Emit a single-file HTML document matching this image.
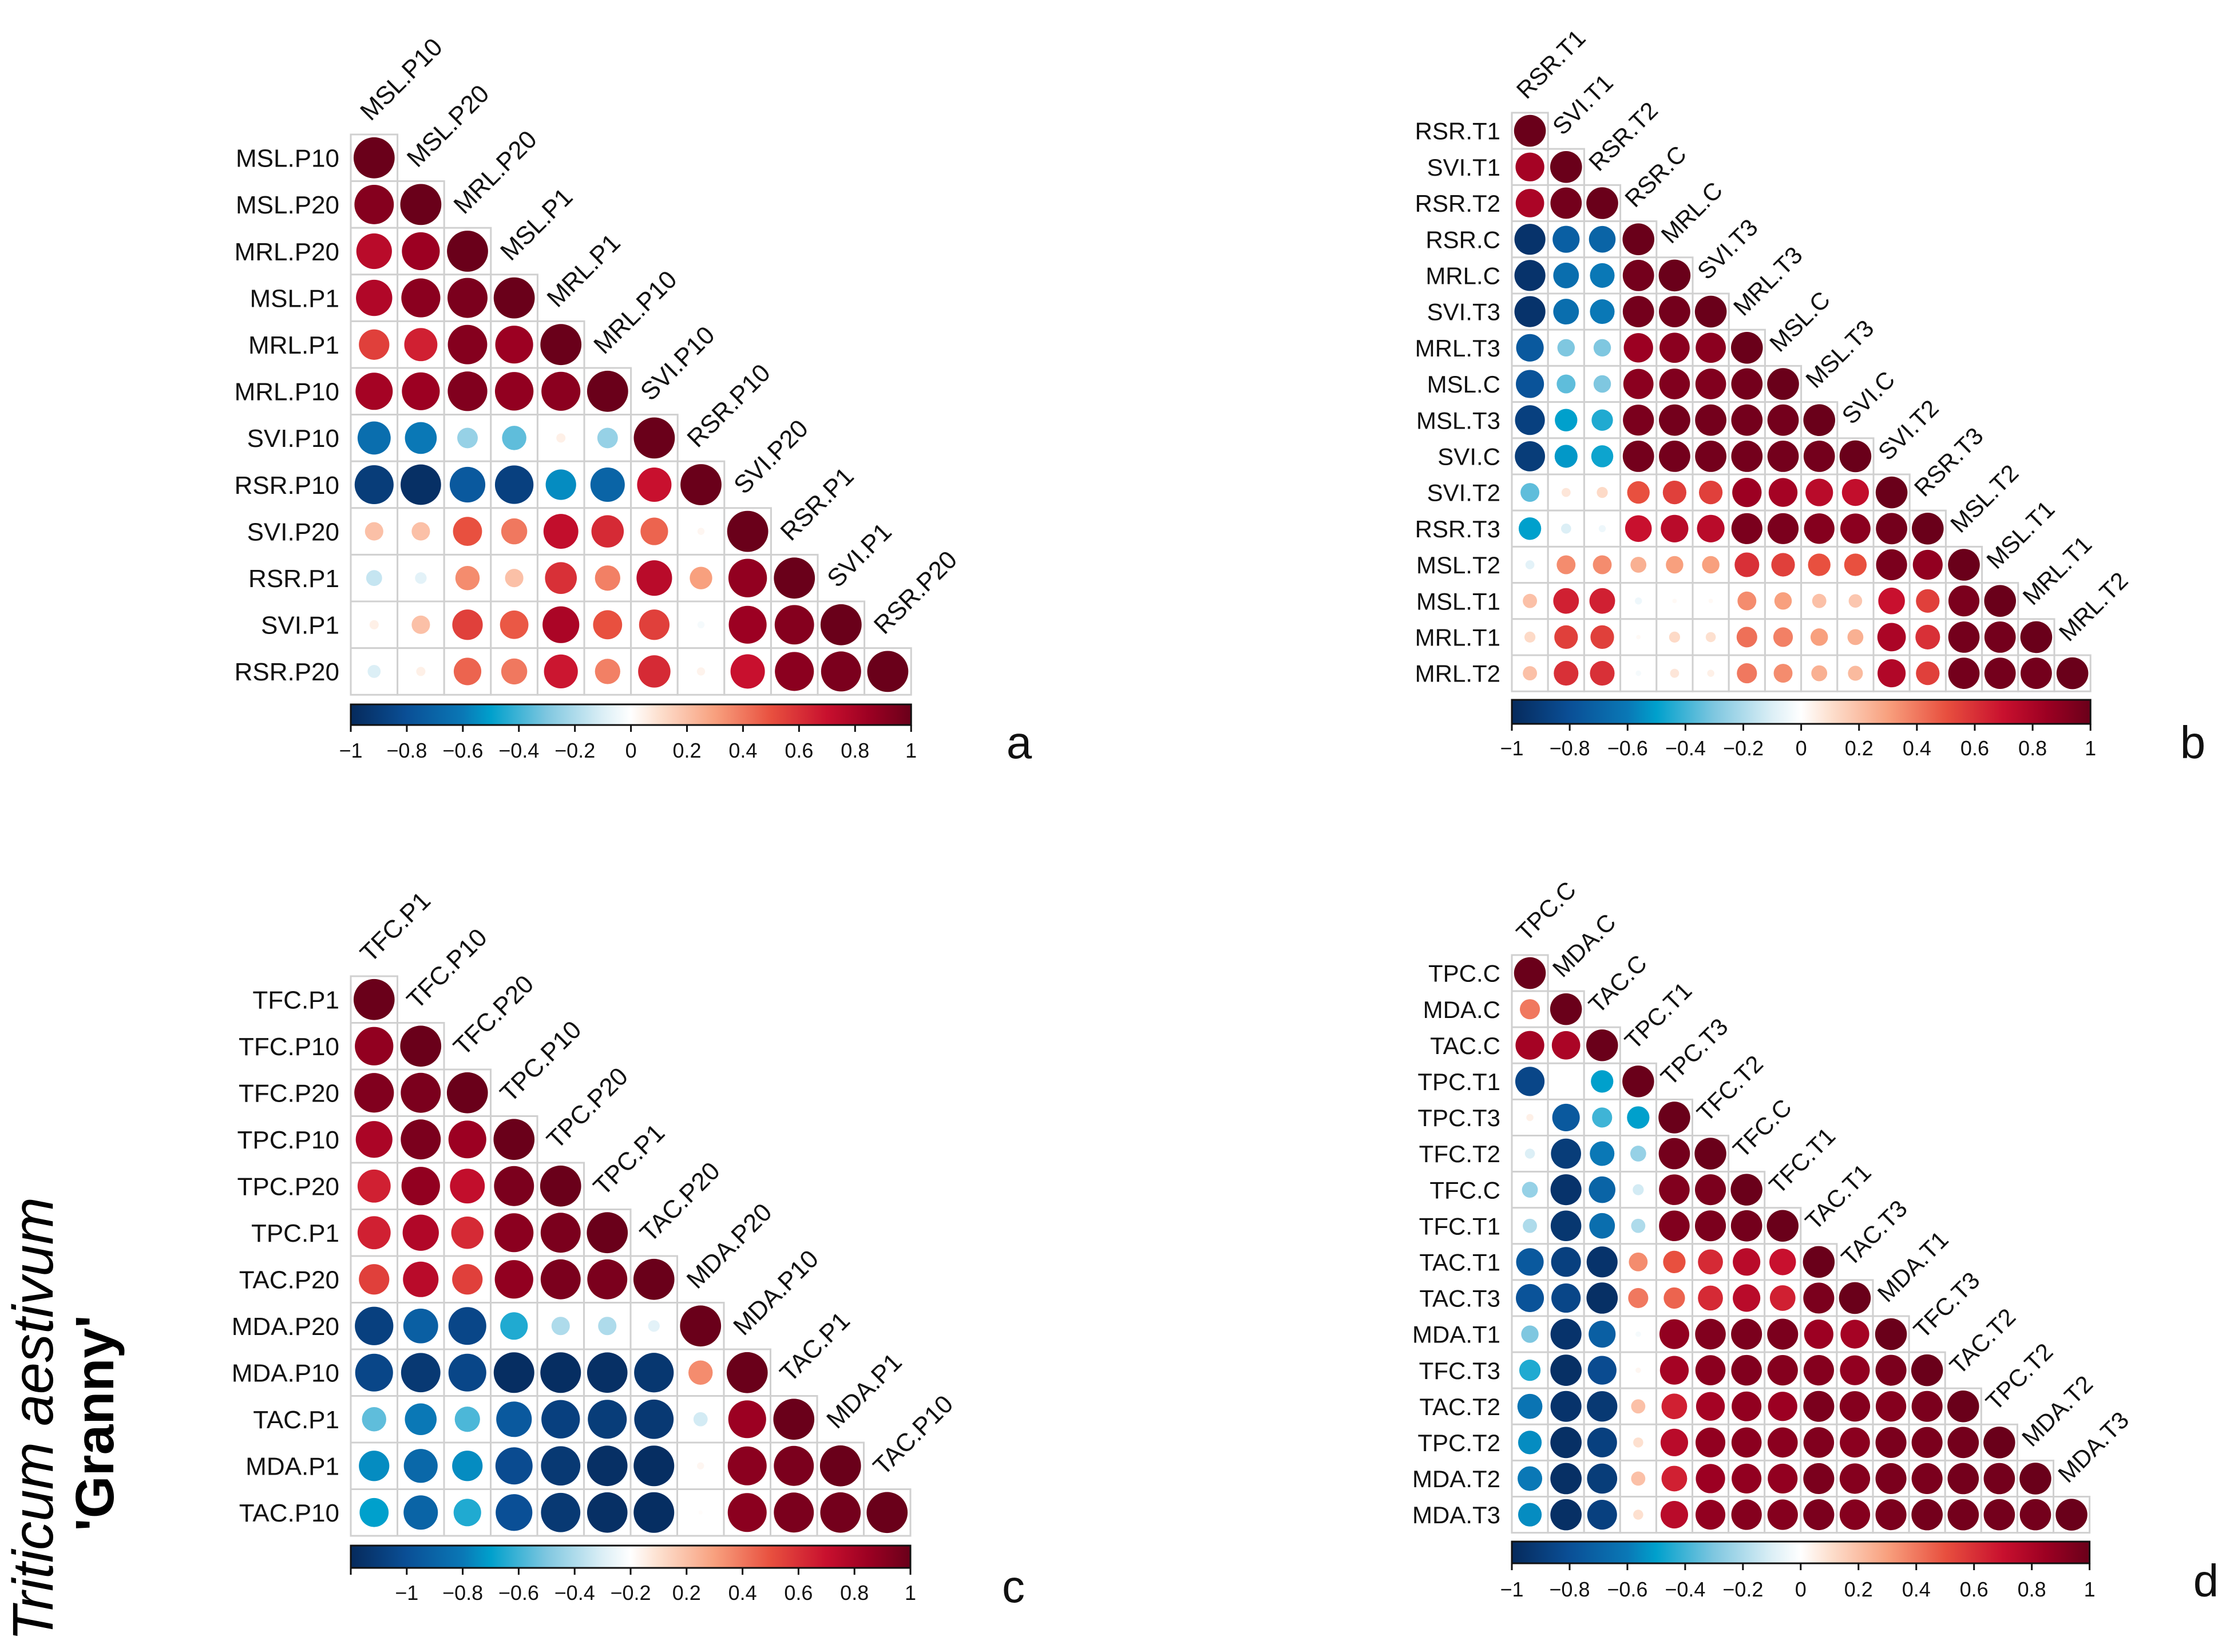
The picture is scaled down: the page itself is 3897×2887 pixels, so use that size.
<!DOCTYPE html>
<html><head><meta charset="utf-8"><style>
html,body{margin:0;padding:0;background:#fff;}
svg{display:block;font-family:"Liberation Sans",sans-serif;}
</style></head><body>
<svg id="fig" width="3897" height="2887" viewBox="0 0 3897 2887" xmlns="http://www.w3.org/2000/svg">
<defs>
<linearGradient id="cgrad" x1="0" x2="1" y1="0" y2="0">
<stop offset="0" stop-color="#062a5c"/><stop offset="0.1" stop-color="#0a4f96"/><stop offset="0.2" stop-color="#0a78b6"/><stop offset="0.25" stop-color="#00a0cc"/><stop offset="0.35" stop-color="#7fc7e0"/><stop offset="0.45" stop-color="#dceff6"/><stop offset="0.5" stop-color="#ffffff"/><stop offset="0.55" stop-color="#fde0cf"/><stop offset="0.65" stop-color="#f8a07e"/><stop offset="0.75" stop-color="#e8503f"/><stop offset="0.85" stop-color="#c8102e"/><stop offset="0.925" stop-color="#9c0022"/><stop offset="1" stop-color="#6a001a"/>
</linearGradient>
</defs>
<text x="92" y="2480" font-size="100" font-style="italic" text-anchor="middle" transform="rotate(-90 92 2480)">Triticum aestivum</text>
<text x="198" y="2487" font-size="95" font-weight="bold" text-anchor="middle" transform="rotate(-90 198 2487)">'Granny'</text>
</svg>
<script>
const aLabels = ["MSL.P10","MSL.P20","MRL.P20","MSL.P1","MRL.P1","MRL.P10","SVI.P10","RSR.P10","SVI.P20","RSR.P1","SVI.P1","RSR.P20"];
const aValues = [
[1],
[0.92,1],
[0.75,0.85,1],
[0.78,0.9,0.95,1],
[0.55,0.65,0.92,0.85,1],
[0.82,0.85,0.93,0.88,0.9,1],
[-0.65,-0.6,-0.25,-0.35,0.05,-0.25,1],
[-0.9,-0.97,-0.75,-0.88,-0.55,-0.7,0.7,1],
[0.2,0.2,0.5,0.4,0.72,0.62,0.45,0.03,1],
[-0.15,-0.08,0.35,0.2,0.6,0.38,0.75,0.3,0.88,1],
[0.05,0.2,0.55,0.48,0.8,0.5,0.55,-0.03,0.85,0.92,1],
[-0.1,0.05,0.45,0.4,0.68,0.38,0.62,0.04,0.7,0.9,0.95,1]];
const bLabels = ["RSR.T1","SVI.T1","RSR.T2","RSR.C","MRL.C","SVI.T3","MRL.T3","MSL.C","MSL.T3","SVI.C","SVI.T2","RSR.T3","MSL.T2","MSL.T1","MRL.T1","MRL.T2"];
const bValues = [
[1],
[0.82,1],
[0.8,0.97,1],
[-0.95,-0.72,-0.7,1],
[-0.95,-0.65,-0.6,0.97,1],
[-0.95,-0.65,-0.6,0.97,0.97,1],
[-0.75,-0.3,-0.3,0.85,0.9,0.9,1],
[-0.78,-0.35,-0.3,0.9,0.93,0.93,0.97,1],
[-0.88,-0.5,-0.45,0.95,0.97,0.97,0.97,0.97,1],
[-0.9,-0.52,-0.48,0.97,0.97,0.97,0.97,0.97,0.97,1],
[-0.35,0.08,0.12,0.5,0.55,0.55,0.85,0.82,0.75,0.72,1],
[-0.5,-0.1,-0.05,0.7,0.75,0.75,0.95,0.95,0.92,0.9,0.97,1],
[-0.08,0.35,0.35,0.25,0.3,0.3,0.6,0.55,0.5,0.5,0.95,0.88,1],
[0.2,0.65,0.65,-0.05,0.02,0.02,0.35,0.3,0.2,0.18,0.7,0.55,0.95,1],
[0.12,0.55,0.55,0.02,0.12,0.1,0.42,0.38,0.3,0.25,0.8,0.6,0.97,0.97,1],
[0.2,0.6,0.6,-0.03,0.08,0.05,0.4,0.35,0.25,0.22,0.78,0.55,0.97,0.97,0.97,1]];
const cLabels = ["TFC.P1","TFC.P10","TFC.P20","TPC.P10","TPC.P20","TPC.P1","TAC.P20","MDA.P20","MDA.P10","TAC.P1","MDA.P1","TAC.P10"];
const cValues = [
[1],
[0.88,1],
[0.93,0.95,1],
[0.8,0.95,0.85,1],
[0.65,0.88,0.72,0.95,1],
[0.65,0.78,0.62,0.9,0.95,1],
[0.55,0.75,0.55,0.88,0.95,0.95,1],
[-0.88,-0.72,-0.85,-0.45,-0.2,-0.2,-0.08,1],
[-0.85,-0.92,-0.85,-0.98,-0.98,-0.97,-0.93,0.35,1],
[-0.35,-0.6,-0.38,-0.75,-0.88,-0.9,-0.92,-0.12,0.85,1],
[-0.55,-0.68,-0.55,-0.82,-0.92,-0.97,-0.98,0.03,0.9,0.95,1],
[-0.5,-0.7,-0.45,-0.8,-0.92,-0.97,-0.98,0.01,0.9,0.95,0.97,1]];
const dLabels = ["TPC.C","MDA.C","TAC.C","TPC.T1","TPC.T3","TFC.T2","TFC.C","TFC.T1","TAC.T1","TAC.T3","MDA.T1","TFC.T3","TAC.T2","TPC.T2","MDA.T2","MDA.T3"];
const dValues = [
[1],
[0.4,1],
[0.82,0.8,1],
[-0.85,0.0,-0.5,1],
[0.05,-0.75,-0.4,-0.5,1],
[-0.1,-0.9,-0.6,-0.25,0.97,1],
[-0.25,-0.95,-0.7,-0.12,0.93,0.95,1],
[-0.2,-0.93,-0.65,-0.2,0.93,0.95,0.97,1],
[-0.75,-0.88,-0.95,0.35,0.5,0.62,0.75,0.7,1],
[-0.78,-0.85,-0.97,0.4,0.45,0.62,0.75,0.65,0.95,1],
[-0.3,-0.95,-0.72,-0.03,0.88,0.93,0.95,0.95,0.85,0.82,1],
[-0.45,-0.97,-0.82,0.03,0.82,0.9,0.93,0.92,0.92,0.88,0.95,1],
[-0.62,-0.95,-0.92,0.2,0.65,0.82,0.88,0.85,0.95,0.92,0.92,0.95,1],
[-0.55,-0.97,-0.88,0.1,0.75,0.88,0.9,0.9,0.93,0.9,0.95,0.95,0.97,1],
[-0.6,-0.97,-0.9,0.2,0.65,0.85,0.88,0.88,0.95,0.92,0.95,0.95,0.97,0.97,1],
[-0.55,-0.97,-0.88,0.1,0.75,0.88,0.92,0.92,0.95,0.92,0.95,0.97,0.97,0.97,0.97,1]];
const tickValues = [-1,-0.8,-0.6,-0.4,-0.2,0,0.2,0.4,0.6,0.8,1];
const tickLabels = ["\u22121","\u22120.8","\u22120.6","\u22120.4","\u22120.2","0","0.2","0.4","0.6","0.8","1"];
const tickLabelsC = ["\u22121","\u22120.8","\u22120.6","\u22120.4","\u22120.2","0.2","0.4","0.6","0.8","1"];

const NS="http://www.w3.org/2000/svg";
const svg=document.getElementById('fig');
const stops=[[-1,[6,42,92]],[-0.8,[10,79,150]],[-0.6,[10,120,182]],[-0.5,[0,160,204]],[-0.3,[127,199,224]],[-0.1,[220,239,246]],[0,[255,255,255]],[0.1,[253,224,207]],[0.3,[248,160,126]],[0.5,[232,80,63]],[0.7,[200,16,46]],[0.85,[156,0,34]],[1,[106,0,26]]];
function color(v){
  for(let i=0;i<stops.length-1;i++){
    const a=stops[i],b=stops[i+1];
    if(v<=b[0]){const t=(v-a[0])/(b[0]-a[0]);
      const c=a[1].map((x,k)=>Math.round(x+(b[1][k]-x)*t));
      return 'rgb('+c.join(',')+')';}
  }
  return 'rgb(106,0,26)';
}
function mk(tag,attrs,parent){const e=document.createElementNS(NS,tag);for(const k in attrs)e.setAttribute(k,attrs[k]);(parent||svg).appendChild(e);return e;}

function panel(id,labels,values,left,top,cell,fs,bar,ticksLbl,tickPosIdx,letter){
  const g=mk('g',{});
  
  
  const n=labels.length;
  const xS=j=>left+j*cell, yS=i=>top+i*cell;
  for(let i=0;i<n;i++){
    for(let j=0;j<=i;j++){
      const r=mk('rect',{x:xS(j),y:yS(i),width:cell,height:cell,fill:'#fff',stroke:'#d0d0d0','stroke-width':3},g);
      
      
    }
  }
  for(let i=0;i<n;i++){
    for(let j=0;j<=i;j++){
      const v=values[i][j];
      const rad=Math.sqrt(Math.abs(v))*cell*0.44;
      const c=mk('circle',{cx:xS(j)+cell/2,cy:yS(i)+cell/2,r:rad,fill:color(v)},g);
      
      
    }
    const t=mk('text',{x:left-20,y:yS(i)+cell/2+fs*0.36,'font-size':fs,'text-anchor':'end',fill:'#111'},g);
    t.textContent=labels[i];
    
    
    const cx=xS(i)+cell/2-6, cy=yS(i)-22;
    const ct=mk('text',{x:cx,y:cy,'font-size':fs,fill:'#111',transform:'rotate(-45 '+cx+' '+cy+')'},g);
    ct.textContent=labels[i];
    
    
  }
  const w=n*cell;
  const cb=mk('rect',{x:left,y:bar[0],width:w,height:bar[1]-bar[0],fill:'url(#cgrad)',stroke:'#111','stroke-width':3},g);
  
  
  const bx=v=>left+(v+1)/2*w;
  for(let k=0;k<tickValues.length;k++){
    const tk=mk('line',{x1:bx(tickValues[k]),x2:bx(tickValues[k]),y1:bar[1],y2:bar[1]+12,stroke:'#111','stroke-width':3},g);
    
    
  }
  for(let k=0;k<ticksLbl.length;k++){
    const p=tickValues[k+tickPosIdx];
    const tl=mk('text',{x:bx(p),y:bar[2],'font-size':36,'text-anchor':'middle',fill:'#111'},g);
    tl.textContent=ticksLbl[k];
    
    
  }
  const L=mk('text',{x:letter[0],y:letter[1],'font-size':80,'text-anchor':'middle',fill:'#111'},g);
  L.textContent=id;
  
  
}
panel('a',aLabels,aValues,613,235,81.6,44,[1231,1267,1324],tickLabels,0,[1781,1325]);
panel('b',bLabels,bValues,2642,197,63.2,42,[1223,1265,1320],tickLabels,0,[3832,1325]);
panel('c',cLabels,cValues,613,1706,81.5,44,[2701,2740,2796],tickLabelsC,1,[1771,2800]);
panel('d',dLabels,dValues,2642,1669,63.1,42,[2694,2732,2790],tickLabels,0,[3855,2790]);
</script>
</body></html>
